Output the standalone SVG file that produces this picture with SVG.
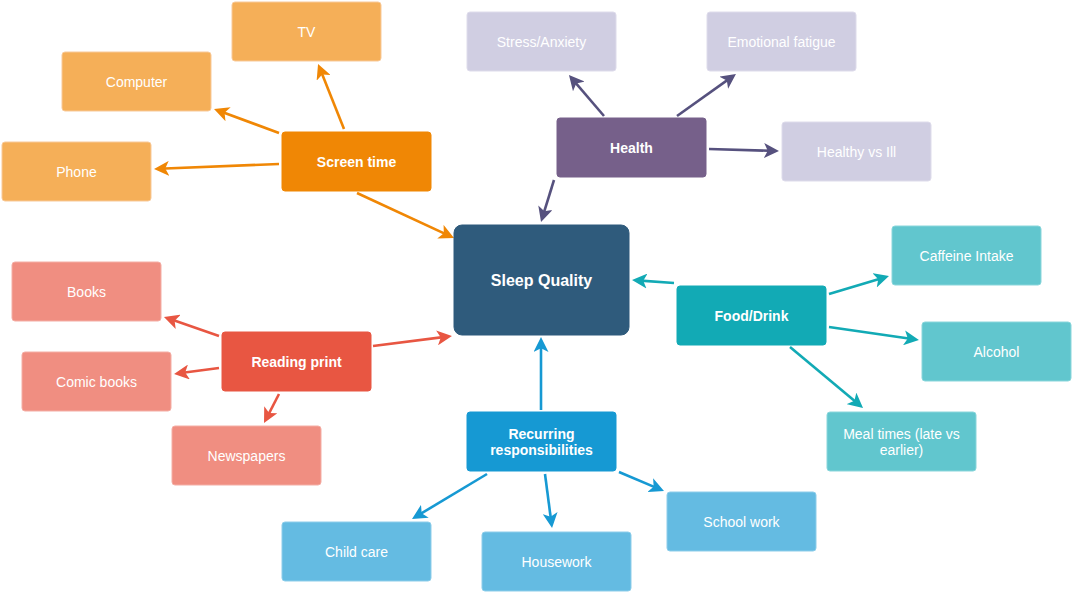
<svg xmlns="http://www.w3.org/2000/svg" width="1073" height="593" viewBox="0 0 1073 593">
<style>
text{font-family:"Liberation Sans",Arial,Helvetica,sans-serif;fill:#fff;text-anchor:middle;dominant-baseline:central;font-size:14px}
.b{font-weight:bold}
.n rect{stroke-width:1}
.e line{stroke-width:2.6;fill:none}
.or{fill:#F5AF58;stroke:#F8C999}.orM{fill:#F08705;stroke:#F08705}
.pu{fill:#D0CEE2;stroke:#DEDCEB}.puM{fill:#76608A;stroke:#76608A}
.te{fill:#61C6CE;stroke:#8AD6DB}.teM{fill:#12AAB5;stroke:#12AAB5}
.re{fill:#F08E81;stroke:#F4AEA5}.reM{fill:#E85642;stroke:#E85642}
.bl{fill:#64BBE2;stroke:#8DCDEA}.blM{fill:#1699D3;stroke:#1699D3}
</style>
<defs>
<marker id="aO" viewBox="0 0 10 10" refX="6.67" refY="5" markerWidth="15" markerHeight="15" markerUnits="userSpaceOnUse" orient="auto"><path d="M0,0L10,5L0,10L2.5,5z" fill="#F08705"/></marker>
<marker id="aP" viewBox="0 0 10 10" refX="6.67" refY="5" markerWidth="15" markerHeight="15" markerUnits="userSpaceOnUse" orient="auto"><path d="M0,0L10,5L0,10L2.5,5z" fill="#56517E"/></marker>
<marker id="aT" viewBox="0 0 10 10" refX="6.67" refY="5" markerWidth="15" markerHeight="15" markerUnits="userSpaceOnUse" orient="auto"><path d="M0,0L10,5L0,10L2.5,5z" fill="#12AAB5"/></marker>
<marker id="aR" viewBox="0 0 10 10" refX="6.67" refY="5" markerWidth="15" markerHeight="15" markerUnits="userSpaceOnUse" orient="auto"><path d="M0,0L10,5L0,10L2.5,5z" fill="#E85642"/></marker>
<marker id="aB" viewBox="0 0 10 10" refX="6.67" refY="5" markerWidth="15" markerHeight="15" markerUnits="userSpaceOnUse" orient="auto"><path d="M0,0L10,5L0,10L2.5,5z" fill="#1699D3"/></marker>
</defs>
<g id="connectors" class="e">
<g stroke="#F08705">
<line x1="344" y1="129" x2="319.9" y2="68.6" marker-end="url(#aO)"/>
<line x1="279" y1="133" x2="218.7" y2="110.7" marker-end="url(#aO)"/>
<line x1="279" y1="164" x2="159" y2="168.8" marker-end="url(#aO)"/>
<line x1="357" y1="193" x2="449.5" y2="235.9" marker-end="url(#aO)"/>
</g>
<g stroke="#56517E">
<line x1="604" y1="116" x2="572.2" y2="78.8" marker-end="url(#aP)"/>
<line x1="677" y1="116" x2="731.9" y2="76.9" marker-end="url(#aP)"/>
<line x1="709" y1="149" x2="774" y2="150.9" marker-end="url(#aP)"/>
<line x1="554" y1="180" x2="542.5" y2="217.2" marker-end="url(#aP)"/>
</g>
<g stroke="#12AAB5">
<line x1="674" y1="283" x2="637" y2="280.4" marker-end="url(#aT)"/>
<line x1="829" y1="294" x2="884.2" y2="277.4" marker-end="url(#aT)"/>
<line x1="829" y1="327" x2="914" y2="339.3" marker-end="url(#aT)"/>
<line x1="790" y1="347" x2="859.2" y2="404.8" marker-end="url(#aT)"/>
</g>
<g stroke="#E85642">
<line x1="219" y1="336" x2="168.7" y2="318.6" marker-end="url(#aR)"/>
<line x1="219" y1="368" x2="179" y2="373.3" marker-end="url(#aR)"/>
<line x1="279" y1="394" x2="266.3" y2="418.6" marker-end="url(#aR)"/>
<line x1="373" y1="346" x2="447" y2="336.6" marker-end="url(#aR)"/>
</g>
<g stroke="#1699D3">
<line x1="541" y1="410" x2="541" y2="342" marker-end="url(#aB)"/>
<line x1="487" y1="474" x2="416.3" y2="516.4" marker-end="url(#aB)"/>
<line x1="545" y1="474" x2="551.4" y2="523" marker-end="url(#aB)"/>
<line x1="619" y1="472" x2="659.4" y2="489.1" marker-end="url(#aB)"/>
</g>
</g>
<g id="sleep" class="n"><rect x="454" y="225" width="175" height="110" rx="8" fill="#2F5B7C" stroke="#2F5B7C"/><text x="541.5" y="280" class="b" style="font-size:16px">Sleep Quality</text></g>
<g id="screen" class="n"><rect class="orM" x="282" y="132" width="149" height="59" rx="3"/><text x="356.5" y="161.5" class="b">Screen time</text></g>
<g id="tv" class="n"><rect class="or" x="232" y="2" width="149" height="59" rx="3"/><text x="306.5" y="31.5">TV</text></g>
<g id="computer" class="n"><rect class="or" x="62" y="52" width="149" height="59" rx="3"/><text x="136.5" y="81.5">Computer</text></g>
<g id="phone" class="n"><rect class="or" x="2" y="142" width="149" height="59" rx="3"/><text x="76.5" y="171.5">Phone</text></g>
<g id="health" class="n"><rect class="puM" x="557" y="118" width="149" height="59" rx="3"/><text x="631.5" y="147.5" class="b">Health</text></g>
<g id="stress" class="n"><rect class="pu" x="467" y="12" width="149" height="59" rx="3"/><text x="541.5" y="41.5">Stress/Anxiety</text></g>
<g id="emotional" class="n"><rect class="pu" x="707" y="12" width="149" height="59" rx="3"/><text x="781.5" y="41.5">Emotional fatigue</text></g>
<g id="healthy" class="n"><rect class="pu" x="782" y="122" width="149" height="59" rx="3"/><text x="856.5" y="151.5">Healthy vs Ill</text></g>
<g id="food" class="n"><rect class="teM" x="677" y="286" width="149" height="59" rx="3"/><text x="751.5" y="315.5" class="b">Food/Drink</text></g>
<g id="caffeine" class="n"><rect class="te" x="892" y="226" width="149" height="59" rx="3"/><text x="966.5" y="255.5">Caffeine Intake</text></g>
<g id="alcohol" class="n"><rect class="te" x="922" y="322" width="149" height="59" rx="3"/><text x="996.5" y="351.5">Alcohol</text></g>
<g id="meal" class="n"><rect class="te" x="827" y="412" width="149" height="59" rx="3"/><text x="901.5" y="434">Meal times (late vs</text><text x="901.5" y="450">earlier)</text></g>
<g id="reading" class="n"><rect class="reM" x="222" y="332" width="149" height="59" rx="3"/><text x="296.5" y="361.5" class="b">Reading print</text></g>
<g id="books" class="n"><rect class="re" x="12" y="262" width="149" height="59" rx="3"/><text x="86.5" y="291.5">Books</text></g>
<g id="comic" class="n"><rect class="re" x="22" y="352" width="149" height="59" rx="3"/><text x="96.5" y="381.5">Comic books</text></g>
<g id="newspapers" class="n"><rect class="re" x="172" y="426" width="149" height="59" rx="3"/><text x="246.5" y="456">Newspapers</text></g>
<g id="recurring" class="n"><rect class="blM" x="467" y="412" width="149" height="59" rx="3"/><text x="541.5" y="434" class="b">Recurring</text><text x="541.5" y="450" class="b">responsibilities</text></g>
<g id="childcare" class="n"><rect class="bl" x="282" y="522" width="149" height="59" rx="3"/><text x="356.5" y="551.5">Child care</text></g>
<g id="housework" class="n"><rect class="bl" x="482" y="532" width="149" height="59" rx="3"/><text x="556.5" y="561.5">Housework</text></g>
<g id="school" class="n"><rect class="bl" x="667" y="492" width="149" height="59" rx="3"/><text x="741.5" y="522">School work</text></g>
</svg>
